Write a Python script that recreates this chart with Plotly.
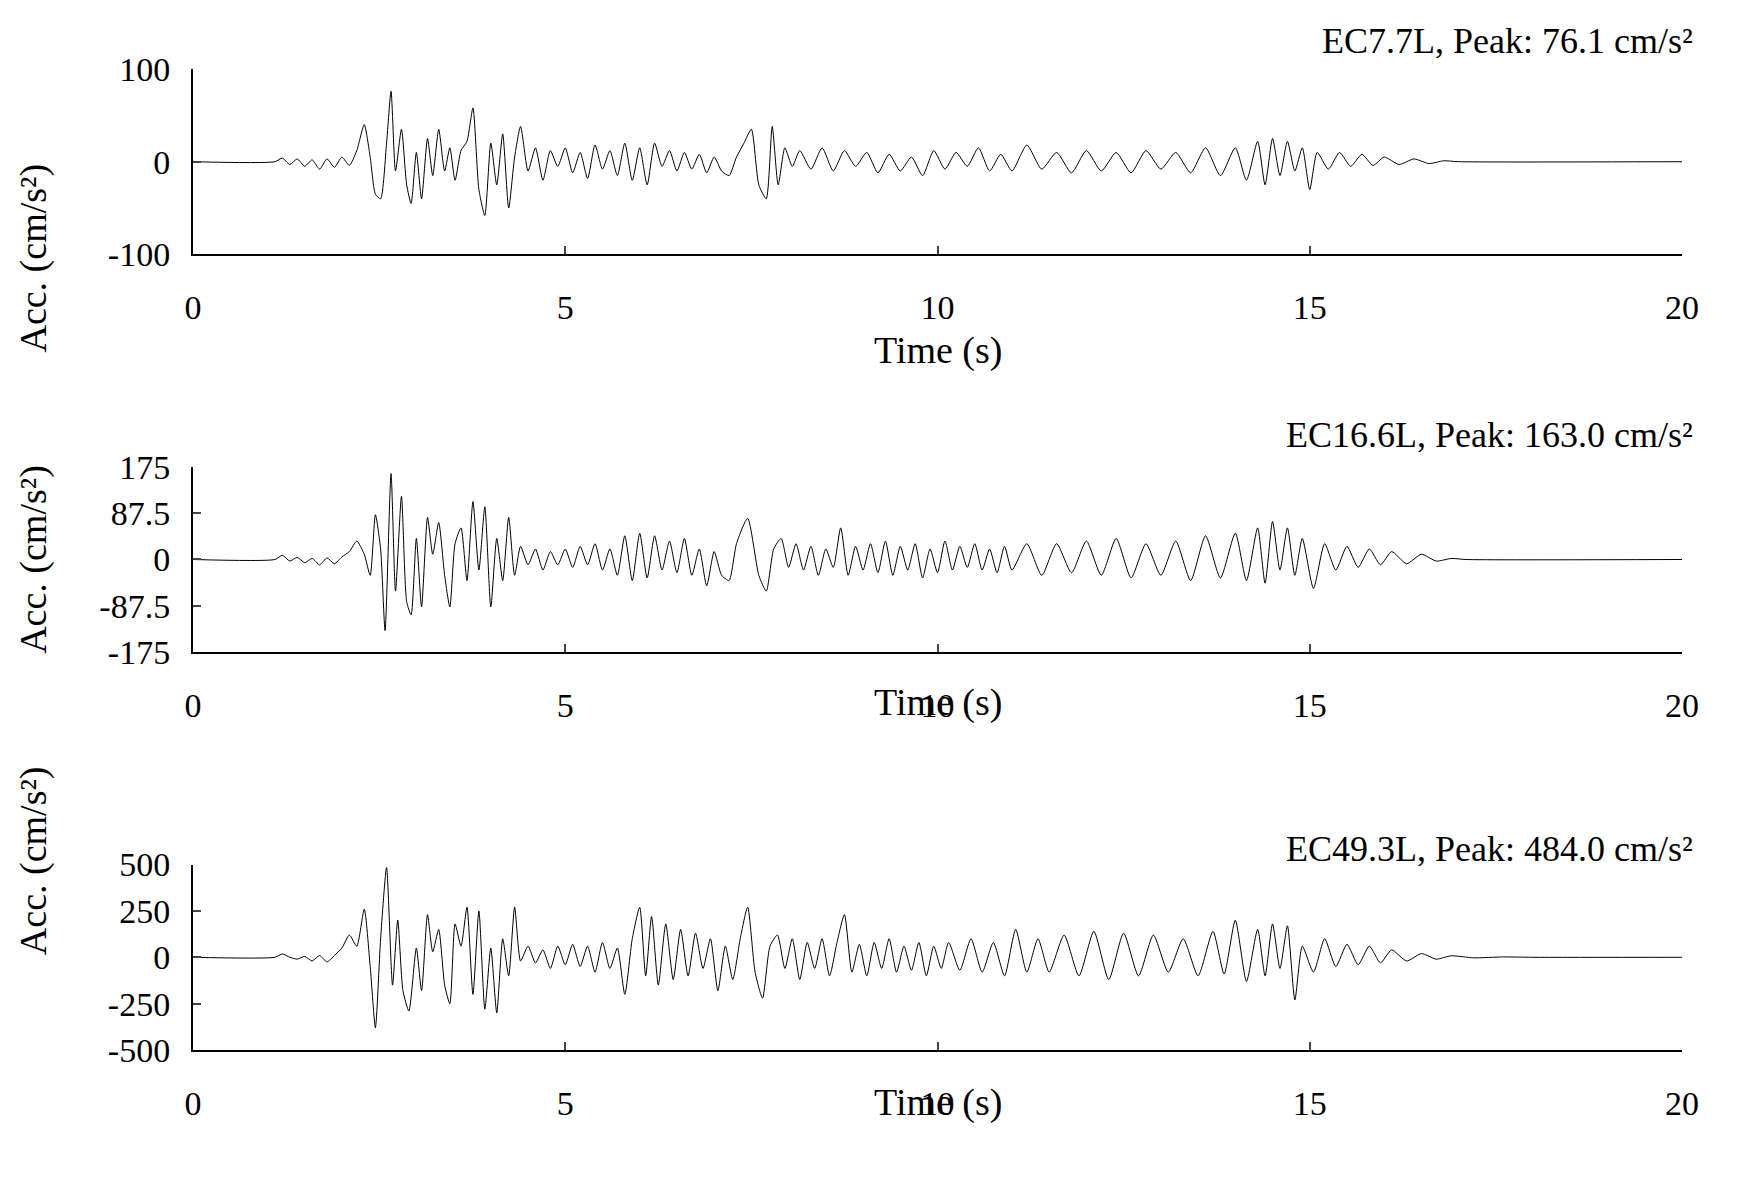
import plotly.graph_objects as go

# (time s, acceleration cm/s2)
ec77 = [(0, 0), (1.1, 0), (1.2, 4), (1.3, -3), (1.4, 3), (1.5, -5), (1.6, 2), (1.7, -8), (1.8, 3), (1.9, -6),
        (2.0, 5), (2.1, -4), (2.2, 12), (2.3, 40), (2.38, 5), (2.45, -35), (2.52, -40), (2.6, 20), (2.66, 76),
        (2.72, -10), (2.8, 35), (2.87, -25), (2.93, -45), (3.0, 10), (3.07, -40), (3.15, 25), (3.22, -15),
        (3.3, 35), (3.38, -10), (3.45, 15), (3.52, -20), (3.6, 12), (3.68, 22), (3.76, 58), (3.84, -30),
        (3.92, -58), (4.0, 20), (4.08, -25), (4.16, 30), (4.24, -50), (4.32, 5), (4.4, 38), (4.5, -10),
        (4.6, 15), (4.7, -20), (4.8, 12), (4.9, -5), (5.0, 15), (5.1, -12), (5.2, 10), (5.3, -18), (5.4, 18),
        (5.5, -8), (5.6, 12), (5.7, -15), (5.8, 20), (5.9, -20), (6.0, 15), (6.1, -25), (6.2, 20), (6.3, -5),
        (6.4, 12), (6.5, -10), (6.6, 10), (6.7, -8), (6.8, 8), (6.9, -12), (7.0, 5), (7.1, -10), (7.2, -15),
        (7.3, 5), (7.4, 20), (7.5, 35), (7.6, -25), (7.7, -40), (7.78, 38), (7.86, -25), (7.95, 15),
        (8.05, -5), (8.15, 12), (8.3, -8), (8.45, 15), (8.6, -10), (8.75, 12), (8.9, -5), (9.05, 10),
        (9.2, -12), (9.35, 8), (9.5, -10), (9.65, 5), (9.8, -15), (9.95, 12), (10.1, -8), (10.25, 10),
        (10.4, -5), (10.55, 15), (10.7, -10), (10.85, 8), (11.0, -10), (11.2, 18), (11.4, -8), (11.6, 10),
        (11.8, -12), (12.0, 12), (12.2, -10), (12.4, 10), (12.6, -12), (12.8, 12), (13.0, -8), (13.2, 10),
        (13.4, -12), (13.6, 15), (13.8, -15), (14.0, 15), (14.15, -20), (14.3, 22), (14.4, -25), (14.5, 25),
        (14.6, -15), (14.7, 22), (14.8, -10), (14.9, 15), (15.0, -30), (15.1, 10), (15.25, -8), (15.4, 10),
        (15.55, -5), (15.7, 8), (15.85, -4), (16.0, 5), (16.2, -3), (16.4, 3), (16.6, -2), (16.8, 1), (17.0, 0),
        (20, 0)]

ec166 = [(0, 0), (1.1, 0), (1.2, 8), (1.3, -3), (1.4, 4), (1.5, -6), (1.6, 2), (1.7, -10), (1.8, 3),
         (1.9, -8), (2.0, 5), (2.1, 15), (2.2, 35), (2.3, 10), (2.38, -30), (2.45, 85), (2.52, 20),
         (2.58, -135), (2.66, 163), (2.72, -60), (2.8, 120), (2.87, -80), (2.93, -105), (3.0, 40),
         (3.07, -90), (3.15, 80), (3.22, 10), (3.3, 70), (3.38, -30), (3.45, -90), (3.52, 30), (3.6, 60),
         (3.68, -40), (3.76, 110), (3.84, -20), (3.92, 100), (4.0, -90), (4.08, 40), (4.16, -40), (4.24, 80),
         (4.32, -30), (4.4, 25), (4.5, -10), (4.6, 20), (4.7, -20), (4.8, 15), (4.9, -10), (5.0, 20),
         (5.1, -15), (5.2, 25), (5.3, -10), (5.4, 30), (5.5, -20), (5.6, 20), (5.7, -30), (5.8, 45),
         (5.9, -40), (6.0, 50), (6.1, -35), (6.2, 45), (6.3, -20), (6.4, 35), (6.5, -25), (6.6, 40),
         (6.7, -30), (6.8, 20), (6.9, -50), (7.0, 15), (7.1, -30), (7.2, -40), (7.3, 30), (7.45, 78),
         (7.6, -30), (7.7, -60), (7.8, 20), (7.9, 40), (8.0, -15), (8.1, 30), (8.2, -20), (8.3, 25),
         (8.4, -30), (8.5, 20), (8.6, -15), (8.7, 60), (8.8, -30), (8.9, 25), (9.0, -20), (9.1, 30),
         (9.2, -25), (9.3, 35), (9.4, -30), (9.5, 25), (9.6, -20), (9.7, 30), (9.8, -35), (9.9, 20),
         (10.0, -25), (10.1, 35), (10.2, -20), (10.3, 25), (10.4, -15), (10.5, 30), (10.6, -20), (10.7, 20),
         (10.8, -25), (10.9, 25), (11.0, -20), (11.2, 30), (11.4, -30), (11.6, 30), (11.8, -25), (12.0, 35),
         (12.2, -30), (12.4, 40), (12.6, -35), (12.8, 30), (13.0, -30), (13.2, 35), (13.4, -40), (13.6, 45),
         (13.8, -35), (14.0, 50), (14.15, -40), (14.3, 60), (14.4, -45), (14.5, 72), (14.6, -20), (14.7, 60),
         (14.8, -30), (14.9, 40), (15.05, -55), (15.2, 30), (15.35, -20), (15.5, 25), (15.65, -15),
         (15.8, 20), (15.95, -10), (16.1, 15), (16.3, -8), (16.5, 10), (16.7, -3), (16.9, 2), (17.1, 0),
         (20, 0)]

ec493 = [(0, 0), (1.1, 0), (1.2, 18), (1.3, 0), (1.4, -10), (1.5, 5), (1.6, -20), (1.7, 10), (1.8, -25),
         (1.9, 10), (2.0, 50), (2.1, 120), (2.2, 60), (2.3, 260), (2.38, -50), (2.45, -380), (2.52, 100),
         (2.6, 484), (2.68, -150), (2.75, 200), (2.82, -180), (2.9, -290), (3.0, 50), (3.07, -180),
         (3.15, 230), (3.22, 30), (3.3, 150), (3.38, -150), (3.45, -250), (3.52, 180), (3.6, 60), (3.68, 270),
         (3.76, -200), (3.84, 250), (3.92, -280), (4.0, 50), (4.08, -300), (4.16, 100), (4.24, -100),
         (4.32, 270), (4.4, -20), (4.5, 60), (4.6, -30), (4.7, 40), (4.8, -60), (4.9, 60), (5.0, -40),
         (5.1, 70), (5.2, -50), (5.3, 60), (5.4, -80), (5.5, 80), (5.6, -60), (5.7, 50), (5.8, -200),
         (5.9, 100), (6.0, 270), (6.08, -100), (6.16, 220), (6.25, -150), (6.35, 180), (6.45, -120),
         (6.55, 150), (6.65, -100), (6.75, 130), (6.85, -60), (6.95, 100), (7.05, -180), (7.15, 60),
         (7.25, -120), (7.35, 100), (7.45, 270), (7.55, -80), (7.65, -220), (7.75, 60), (7.85, 120),
         (7.95, -60), (8.05, 100), (8.15, -120), (8.25, 80), (8.35, -60), (8.45, 100), (8.55, -100),
         (8.65, 80), (8.75, 230), (8.85, -80), (8.95, 70), (9.05, -100), (9.15, 80), (9.25, -60), (9.35, 100),
         (9.45, -80), (9.55, 60), (9.65, -70), (9.75, 80), (9.85, -100), (9.95, 60), (10.05, -60),
         (10.15, 80), (10.3, -70), (10.45, 100), (10.6, -80), (10.75, 80), (10.9, -100), (11.05, 150),
         (11.2, -80), (11.35, 100), (11.5, -80), (11.7, 120), (11.9, -100), (12.1, 140), (12.3, -120),
         (12.5, 130), (12.7, -100), (12.9, 120), (13.1, -80), (13.3, 100), (13.5, -100), (13.7, 140),
         (13.85, -90), (14.0, 200), (14.15, -130), (14.3, 150), (14.4, -100), (14.5, 180), (14.6, -60),
         (14.7, 170), (14.8, -230), (14.9, 60), (15.05, -80), (15.2, 100), (15.35, -50), (15.5, 70),
         (15.65, -40), (15.8, 60), (15.95, -30), (16.1, 40), (16.3, -20), (16.5, 20), (16.7, -10),
         (16.9, 8), (17.2, -3), (17.6, 2), (18.0, 0), (20, 0)]

titles = ["EC7.7L, Peak: 76.1 cm/s²", "EC16.6L, Peak: 163.0 cm/s²", "EC49.3L, Peak: 484.0 cm/s²"]
ylims = [100, 175, 500]
yticks = [[-100, 0, 100], [-175, -87.5, 0, 87.5, 175], [-500, -250, 0, 250, 500]]
ylabels = [["-100", "0", "100"], ["-175", "-87.5", "0", "87.5", "175"], ["-500", "-250", "0", "250", "500"]]
xticks = [0, 5, 10, 15, 20]

FONT = "Liberation Serif"
domains = [[0.811, 1.0], [0.406, 0.594], [0.0, 0.189]]
time_y = [0.737, 0.33, -0.077]
title_y = [1.051, 0.627, 0.182]

fig = go.Figure()
for i, data in enumerate([ec77, ec166, ec493]):
    n = "" if i == 0 else str(i + 1)
    fig.add_trace(go.Scatter(x=[p[0] for p in data], y=[p[1] for p in data], mode="lines",
                             line=dict(color="black", width=1, shape="spline", smoothing=0.6),
                             xaxis="x" + n, yaxis="y" + n, showlegend=False))
    ax = dict(range=[0, 20], tickvals=xticks, ticks="inside", ticklen=8, tickwidth=2,
              showline=True, linecolor="black", linewidth=2, showgrid=False, zeroline=False,
              anchor="y" + n, domain=[0, 1], ticklabelstandoff=22,
              tickfont=dict(family=FONT, size=34, color="black"))
    ay = dict(range=[-ylims[i], ylims[i]], tickvals=yticks[i], ticktext=ylabels[i], ticks="inside",
              ticklen=8, tickwidth=2, showline=True, linecolor="black", linewidth=2, showgrid=False,
              zeroline=False, anchor="x" + n, domain=domains[i], ticklabelstandoff=14,
              tickfont=dict(family=FONT, size=34, color="black"))
    fig.update_layout({"xaxis" + n: ax, "yaxis" + n: ay})
    fig.add_annotation(text="Time (s)", xref="paper", yref="paper", x=0.5, y=time_y[i],
                       showarrow=False, font=dict(family=FONT, size=38, color="black"))
    fig.add_annotation(text=titles[i], xref="paper", yref="paper", x=1.009, y=title_y[i],
                       xanchor="right", showarrow=False, font=dict(family=FONT, size=36, color="black"))
    fig.add_annotation(text="Acc. (cm/s²)", xref="paper", yref="paper", x=-0.123,
                       y=sum(domains[i]) / 2, textangle=-90, showarrow=False,
                       font=dict(family=FONT, size=38, color="black"))

fig.update_layout(width=1754, height=1184, margin=dict(l=185, r=80, t=61, b=142),
                  plot_bgcolor="white", paper_bgcolor="white")
fig.write_html("out.html")
